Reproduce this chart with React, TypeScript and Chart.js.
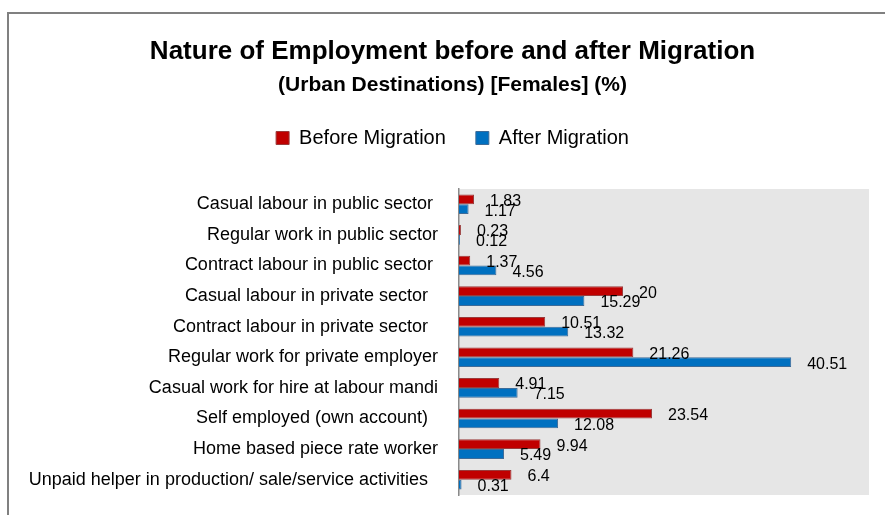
import React, { useEffect, useRef } from 'react';
import { Chart, registerables } from 'chart.js';

Chart.register(...registerables);

const categories = [
  'Casual labour in public sector ',
  'Regular work in public sector',
  'Contract labour in public sector ',
  'Casual labour in private sector  ',
  'Contract labour in private sector  ',
  'Regular work for private employer',
  'Casual work for hire at labour mandi',
  'Self employed (own account)  ',
  'Home based piece rate worker',
  'Unpaid helper in production/ sale/service activities  ',
];
const beforeMigration = [1.83, 0.23, 1.37, 20, 10.51, 21.26, 4.91, 23.54, 9.94, 6.4];
const afterMigration = [1.17, 0.12, 4.56, 15.29, 13.32, 40.51, 7.15, 12.08, 5.49, 0.31];
const seriesNames = ['Before Migration', 'After Migration'];
const titleText = 'Nature of Employment before and after Migration';
const subtitleText = '(Urban Destinations) [Females] (%)';
const axisMin = 0;
const axisMax = 50;

const FONT = '"Liberation Sans", Arial, sans-serif';

const framePlugin = {
  id: 'frame',
  beforeDraw(chart: any) {
    const { ctx, chartArea } = chart;
    ctx.save();
    ctx.fillStyle = '#ffffff';
    ctx.fillRect(0, 0, chart.width, chart.height);
    ctx.fillStyle = '#e6e6e6';
    ctx.fillRect(chartArea.left, chartArea.top, chartArea.right - chartArea.left, chartArea.bottom - chartArea.top);
    ctx.strokeStyle = '#808080';
    ctx.lineWidth = 2;
    ctx.beginPath();
    ctx.moveTo(8, chart.height);
    ctx.lineTo(8, 13);
    ctx.lineTo(chart.width, 13);
    ctx.stroke();
    ctx.restore();
  },
};

const valueLabelPlugin = {
  id: 'valueLabels',
  afterDatasetsDraw(chart: any) {
    const { ctx } = chart;
    ctx.save();
    ctx.font = `16px ${FONT}`;
    ctx.fillStyle = '#000000';
    ctx.textAlign = 'left';
    ctx.textBaseline = 'middle';
    chart.data.datasets.forEach((ds: any, di: number) => {
      const meta = chart.getDatasetMeta(di);
      meta.data.forEach((bar: any, i: number) => {
        ctx.fillText(String(ds.data[i]), bar.x + 16, bar.y + 2);
      });
    });
    ctx.restore();
  },
};

const zeroPadding = (s: any) => {
  s.paddingTop = 0;
  s.paddingBottom = 0;
  s.paddingLeft = 0;
  s.paddingRight = 0;
};

export default function App() {
  const canvasRef = useRef<HTMLCanvasElement | null>(null);

  useEffect(() => {
    const canvas = canvasRef.current;
    if (!canvas) return;
    const chart = new Chart(canvas, {
      type: 'bar',
      data: {
        labels: categories,
        datasets: [
          {
            label: seriesNames[0],
            data: beforeMigration,
            backgroundColor: '#c00000',
            borderColor: '#9a3b3b',
            borderWidth: 1,
            categoryPercentage: 0.64,
            barPercentage: 1,
          },
          {
            label: seriesNames[1],
            data: afterMigration,
            backgroundColor: '#0070c0',
            borderColor: '#3d6b98',
            borderWidth: 1,
            categoryPercentage: 0.64,
            barPercentage: 1,
          },
        ],
      },
      options: {
        indexAxis: 'y',
        responsive: false,
        animation: false,
        devicePixelRatio: 1,
        layout: { padding: { left: 20, right: 0, top: 0, bottom: 20 } },
        plugins: {
          title: {
            display: true,
            text: titleText,
            color: '#000000',
            font: { family: FONT, size: 26, weight: 'bold', lineHeight: 1.2 },
            padding: { top: 36.4, bottom: 0 },
          },
          subtitle: {
            display: true,
            text: subtitleText,
            color: '#000000',
            font: { family: FONT, size: 21, weight: 'bold', lineHeight: 1.2 },
            padding: { top: 4.8, bottom: 0.4 },
          },
          legend: {
            display: true,
            position: 'top',
            labels: {
              boxWidth: 13,
              boxHeight: 13,
              padding: 30,
              color: '#000000',
              font: { family: FONT, size: 20 },
            },
          },
          tooltip: { enabled: false },
        },
        scales: {
          x: {
            type: 'linear',
            position: 'top',
            min: axisMin,
            max: axisMax,
            grid: { display: false },
            border: { display: false },
            ticks: { display: false },
            afterFit: (s: any) => {
              s.height = 31;
              zeroPadding(s);
            },
          },
          y: {
            type: 'category',
            grid: { display: false, drawTicks: false },
            border: { display: true, color: '#8a8a8a', width: 1.5 },
            ticks: { color: '#000000', padding: 21, font: { family: FONT, size: 18 } },
            afterFit: (s: any) => {
              s.width = 439;
              zeroPadding(s);
            },
          },
          yRight: {
            type: 'category',
            position: 'right',
            display: true,
            grid: { display: false, drawTicks: false },
            border: { display: false },
            ticks: { display: false },
            afterFit: (s: any) => {
              s.width = 16;
              zeroPadding(s);
            },
          },
        },
      } as any,
      plugins: [framePlugin, valueLabelPlugin],
    });
    return () => chart.destroy();
  }, []);

  return (
    <div style={{ position: 'absolute', left: 0, top: 0, width: 885, height: 515 }}>
      <canvas ref={canvasRef} width={885} height={515} style={{ display: 'block' }} />
    </div>
  );
}
